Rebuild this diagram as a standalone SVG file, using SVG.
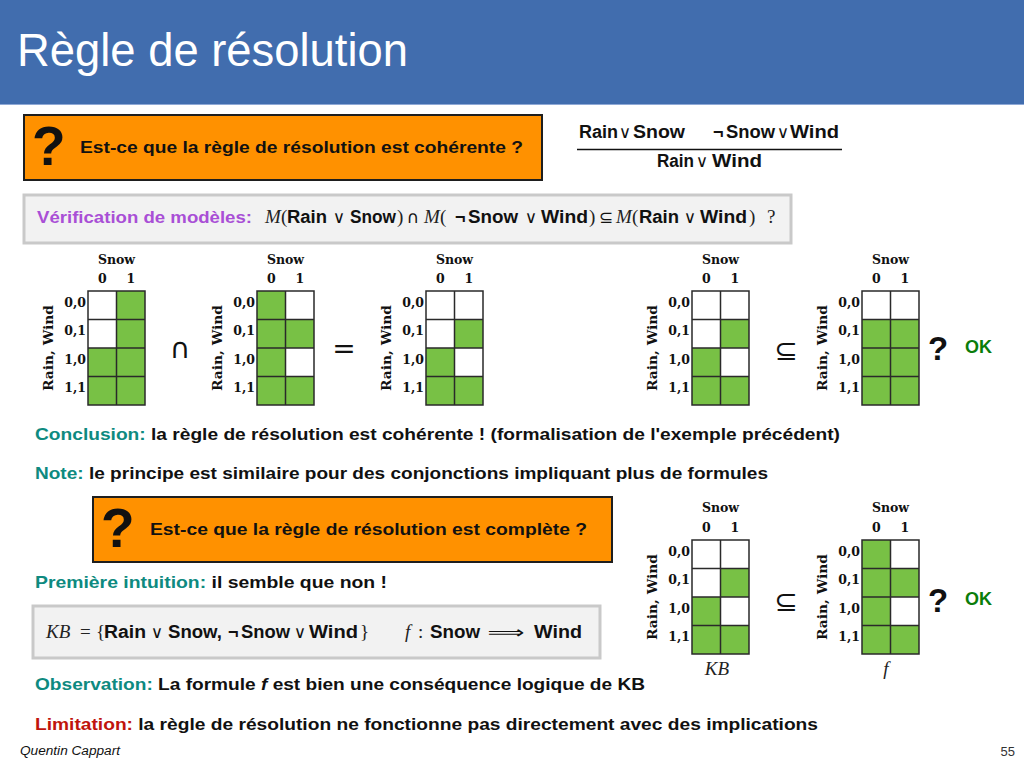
<svg xmlns="http://www.w3.org/2000/svg" width="1024" height="768" viewBox="0 0 1024 768">
<defs>
<style>
.body{font-family:"Liberation Sans",Arial,sans-serif;font-weight:bold;font-size:16.5px;fill:#111}
.teal{fill:#0e8a80}
.red{fill:#c0140c}
.purple{fill:#a94fd6}
.ms{font-family:"Liberation Sans",Arial,sans-serif;font-weight:bold;font-size:18px;fill:#111}
.op{font-family:"DejaVu Sans",sans-serif;font-weight:normal;font-size:17px;fill:#111;text-anchor:middle}
.mi{font-family:"Liberation Serif","Times New Roman",serif;font-style:italic;font-size:19px;fill:#222}
.mr{font-family:"Liberation Serif","Times New Roman",serif;font-size:19px;fill:#222}
.ax{font-family:"DejaVu Serif",serif;font-weight:bold;font-size:12.5px;fill:#111}
.on{fill:#78c145}
.frame{fill:none;stroke:#2a2a2a;stroke-width:1.5}
.bigop{font-family:"DejaVu Sans",sans-serif;font-size:28px;fill:#111;text-anchor:middle}
.qm{font-family:"Liberation Sans",Arial,sans-serif;font-weight:bold;fill:#111}
.ok{font-family:"Liberation Sans",Arial,sans-serif;font-weight:bold;font-size:18px;fill:#0a7d0a}
.obox{fill:#ff9100;stroke:#1e1e1e;stroke-width:2}
.gbox{fill:#f2f2f2;stroke:#c9c9c9;stroke-width:3}
</style>
</defs>

<rect width="1024" height="768" fill="#ffffff"/>

<!-- title bar -->
<g id="title">
  <rect x="0" y="0" width="1024" height="104" fill="#416dae"/>
  <line x1="0" y1="104.5" x2="1024" y2="104.5" stroke="#8fa9d6" stroke-width="1"/>
  <text x="17" y="66" font-family="Liberation Sans, Arial, sans-serif" font-size="46" fill="#ffffff" textLength="391" lengthAdjust="spacingAndGlyphs">Règle de résolution</text>
</g>

<!-- question: soundness -->
<g id="question-sound">
  <rect class="obox" x="24" y="115" width="518" height="65"/>
  <text class="qm" x="32" y="165" font-size="55">?</text>
  <text class="body" x="80" y="153" textLength="443" lengthAdjust="spacingAndGlyphs">Est-ce que la règle de résolution est cohérente ?</text>
</g>

<!-- resolution rule as a fraction -->
<g id="rule">
  <text class="ms" x="579" y="138" textLength="39" lengthAdjust="spacingAndGlyphs">Rain</text>
  <text class="op" x="625" y="138">∨</text>
  <text class="ms" x="633" y="138" textLength="52" lengthAdjust="spacingAndGlyphs">Snow</text>
  <text class="ms" x="713" y="138">¬</text>
  <text class="ms" x="726" y="138" textLength="49" lengthAdjust="spacingAndGlyphs">Snow</text>
  <text class="op" x="783" y="138">∨</text>
  <text class="ms" x="790" y="138" textLength="49" lengthAdjust="spacingAndGlyphs">Wind</text>
  <line x1="577" y1="149.5" x2="842" y2="149.5" stroke="#111" stroke-width="1.5"/>
  <text class="ms" x="657" y="167" textLength="37" lengthAdjust="spacingAndGlyphs">Rain</text>
  <text class="op" x="702" y="167">∨</text>
  <text class="ms" x="712" y="167" textLength="50" lengthAdjust="spacingAndGlyphs">Wind</text>
</g>

<!-- model checking statement -->
<g id="model-check">
  <rect class="gbox" x="24" y="195" width="767" height="48"/>
  <text class="body purple" x="37" y="223" textLength="215" lengthAdjust="spacingAndGlyphs">Vérification de modèles:</text>
  <text class="mi" x="265" y="223">M</text>
  <text class="mr" x="281" y="223">(</text>
  <text class="ms" x="287" y="223" textLength="40" lengthAdjust="spacingAndGlyphs">Rain</text>
  <text class="op" x="339" y="223">∨</text>
  <text class="ms" x="350" y="223" textLength="46" lengthAdjust="spacingAndGlyphs">Snow</text>
  <text class="mr" x="397" y="223">)</text>
  <text class="op" x="413" y="223">∩</text>
  <text class="mi" x="424" y="223">M</text>
  <text class="mr" x="440" y="223">(</text>
  <text class="ms" x="455" y="223">¬</text>
  <text class="ms" x="468" y="223" textLength="50" lengthAdjust="spacingAndGlyphs">Snow</text>
  <text class="op" x="531" y="223">∨</text>
  <text class="ms" x="541" y="223" textLength="47" lengthAdjust="spacingAndGlyphs">Wind</text>
  <text class="mr" x="589" y="223">)</text>
  <text class="op" x="606" y="223">⊆</text>
  <text class="mi" x="616" y="223">M</text>
  <text class="mr" x="632" y="223">(</text>
  <text class="ms" x="639" y="223" textLength="40" lengthAdjust="spacingAndGlyphs">Rain</text>
  <text class="op" x="690" y="223">∨</text>
  <text class="ms" x="700" y="223" textLength="47" lengthAdjust="spacingAndGlyphs">Wind</text>
  <text class="mr" x="749" y="223">)</text>
  <text class="mr" x="767" y="223">?</text>
</g>

<!-- truth tables: rows (Rain,Wind), columns Snow -->
<g id="table-rain-or-snow" transform="translate(88,291)">
  <rect width="57" height="114" fill="#fff"/>
  <rect class="on" x="28.5" y="0" width="28.5" height="57"/>
  <rect class="on" x="0" y="57" width="57" height="57"/>
  <path class="frame" d="M0 0H57V114H0Z M28.5 0V114 M0 28.5H57 M0 57H57 M0 85.5H57"/>
  <text class="ax" x="28.5" y="-27" text-anchor="middle">Snow</text>
  <text class="ax" x="14.25" y="-8" text-anchor="middle">0</text>
  <text class="ax" x="42.75" y="-8" text-anchor="middle">1</text>
  <text class="ax" x="-2" y="15.7" text-anchor="end">0,0</text>
  <text class="ax" x="-2" y="44.2" text-anchor="end">0,1</text>
  <text class="ax" x="-2" y="72.7" text-anchor="end">1,0</text>
  <text class="ax" x="-2" y="101.2" text-anchor="end">1,1</text>
  <text class="ax" transform="translate(-35,57) rotate(-90)" text-anchor="middle" textLength="86" lengthAdjust="spacingAndGlyphs">Rain, Wind</text>
</g>

<g id="table-not-snow-or-wind" transform="translate(257,291)">
  <rect width="57" height="114" fill="#fff"/>
  <rect class="on" x="0" y="0" width="28.5" height="114"/>
  <rect class="on" x="28.5" y="28.5" width="28.5" height="28.5"/>
  <rect class="on" x="28.5" y="85.5" width="28.5" height="28.5"/>
  <path class="frame" d="M0 0H57V114H0Z M28.5 0V114 M0 28.5H57 M0 57H57 M0 85.5H57"/>
  <text class="ax" x="28.5" y="-27" text-anchor="middle">Snow</text>
  <text class="ax" x="14.25" y="-8" text-anchor="middle">0</text>
  <text class="ax" x="42.75" y="-8" text-anchor="middle">1</text>
  <text class="ax" x="-2" y="15.7" text-anchor="end">0,0</text>
  <text class="ax" x="-2" y="44.2" text-anchor="end">0,1</text>
  <text class="ax" x="-2" y="72.7" text-anchor="end">1,0</text>
  <text class="ax" x="-2" y="101.2" text-anchor="end">1,1</text>
  <text class="ax" transform="translate(-35,57) rotate(-90)" text-anchor="middle" textLength="86" lengthAdjust="spacingAndGlyphs">Rain, Wind</text>
</g>

<g id="table-intersection" transform="translate(426,291)">
  <rect width="57" height="114" fill="#fff"/>
  <rect class="on" x="28.5" y="28.5" width="28.5" height="28.5"/>
  <rect class="on" x="0" y="57" width="28.5" height="57"/>
  <rect class="on" x="28.5" y="85.5" width="28.5" height="28.5"/>
  <path class="frame" d="M0 0H57V114H0Z M28.5 0V114 M0 28.5H57 M0 57H57 M0 85.5H57"/>
  <text class="ax" x="28.5" y="-27" text-anchor="middle">Snow</text>
  <text class="ax" x="14.25" y="-8" text-anchor="middle">0</text>
  <text class="ax" x="42.75" y="-8" text-anchor="middle">1</text>
  <text class="ax" x="-2" y="15.7" text-anchor="end">0,0</text>
  <text class="ax" x="-2" y="44.2" text-anchor="end">0,1</text>
  <text class="ax" x="-2" y="72.7" text-anchor="end">1,0</text>
  <text class="ax" x="-2" y="101.2" text-anchor="end">1,1</text>
  <text class="ax" transform="translate(-35,57) rotate(-90)" text-anchor="middle" textLength="86" lengthAdjust="spacingAndGlyphs">Rain, Wind</text>
</g>

<g id="table-intersection-copy" transform="translate(692,291)">
  <rect width="57" height="114" fill="#fff"/>
  <rect class="on" x="28.5" y="28.5" width="28.5" height="28.5"/>
  <rect class="on" x="0" y="57" width="28.5" height="57"/>
  <rect class="on" x="28.5" y="85.5" width="28.5" height="28.5"/>
  <path class="frame" d="M0 0H57V114H0Z M28.5 0V114 M0 28.5H57 M0 57H57 M0 85.5H57"/>
  <text class="ax" x="28.5" y="-27" text-anchor="middle">Snow</text>
  <text class="ax" x="14.25" y="-8" text-anchor="middle">0</text>
  <text class="ax" x="42.75" y="-8" text-anchor="middle">1</text>
  <text class="ax" x="-2" y="15.7" text-anchor="end">0,0</text>
  <text class="ax" x="-2" y="44.2" text-anchor="end">0,1</text>
  <text class="ax" x="-2" y="72.7" text-anchor="end">1,0</text>
  <text class="ax" x="-2" y="101.2" text-anchor="end">1,1</text>
  <text class="ax" transform="translate(-35,57) rotate(-90)" text-anchor="middle" textLength="86" lengthAdjust="spacingAndGlyphs">Rain, Wind</text>
</g>

<g id="table-rain-or-wind" transform="translate(862,291)">
  <rect width="57" height="114" fill="#fff"/>
  <rect class="on" x="0" y="28.5" width="57" height="85.5"/>
  <path class="frame" d="M0 0H57V114H0Z M28.5 0V114 M0 28.5H57 M0 57H57 M0 85.5H57"/>
  <text class="ax" x="28.5" y="-27" text-anchor="middle">Snow</text>
  <text class="ax" x="14.25" y="-8" text-anchor="middle">0</text>
  <text class="ax" x="42.75" y="-8" text-anchor="middle">1</text>
  <text class="ax" x="-2" y="15.7" text-anchor="end">0,0</text>
  <text class="ax" x="-2" y="44.2" text-anchor="end">0,1</text>
  <text class="ax" x="-2" y="72.7" text-anchor="end">1,0</text>
  <text class="ax" x="-2" y="101.2" text-anchor="end">1,1</text>
  <text class="ax" transform="translate(-35,57) rotate(-90)" text-anchor="middle" textLength="86" lengthAdjust="spacingAndGlyphs">Rain, Wind</text>
</g>

<!-- operators between the tables -->
<g id="operators-top">
  <text class="bigop" x="180" y="358" font-size="26">∩</text>
  <text class="bigop" x="344" y="358" font-size="30">=</text>
  <text class="bigop" x="786" y="360">⊆</text>
  <text class="qm" x="938" y="360" font-size="33" text-anchor="middle">?</text>
  <text class="ok" x="965" y="353">OK</text>
</g>

<!-- remarks -->
<text class="body" x="35" y="440" textLength="805" lengthAdjust="spacingAndGlyphs"><tspan class="teal">Conclusion:</tspan> la règle de résolution est cohérente ! (formalisation de l'exemple précédent)</text>
<text class="body" x="35" y="479" textLength="733" lengthAdjust="spacingAndGlyphs"><tspan class="teal">Note:</tspan> le principe est similaire pour des conjonctions impliquant plus de formules</text>

<!-- question: completeness -->
<g id="question-complete">
  <rect class="obox" x="93" y="497" width="519" height="65"/>
  <text class="qm" x="101" y="547" font-size="55">?</text>
  <text class="body" x="150" y="535" textLength="437" lengthAdjust="spacingAndGlyphs">Est-ce que la règle de résolution est complète ?</text>
</g>

<text class="body" x="35" y="588" textLength="352" lengthAdjust="spacingAndGlyphs"><tspan class="teal">Première intuition:</tspan> il semble que non !</text>

<!-- knowledge base and formula -->
<g id="kb-box">
  <rect class="gbox" x="33" y="606" width="567" height="52"/>
  <text class="mi" x="46" y="638">KB</text>
  <text class="mr" x="80" y="638">=</text>
  <text class="mr" x="96" y="638">{</text>
  <text class="ms" x="104" y="638" textLength="42" lengthAdjust="spacingAndGlyphs">Rain</text>
  <text class="op" x="157" y="638">∨</text>
  <text class="ms" x="168" y="638" textLength="54" lengthAdjust="spacingAndGlyphs">Snow,</text>
  <text class="ms" x="228" y="638">¬</text>
  <text class="ms" x="241" y="638" textLength="49" lengthAdjust="spacingAndGlyphs">Snow</text>
  <text class="op" x="300" y="638">∨</text>
  <text class="ms" x="309" y="638" textLength="49" lengthAdjust="spacingAndGlyphs">Wind</text>
  <text class="mr" x="360" y="638">}</text>
  <text class="mi" x="405" y="638">f</text>
  <text class="mr" x="418" y="638">:</text>
  <text class="ms" x="430" y="638" textLength="50" lengthAdjust="spacingAndGlyphs">Snow</text>
  <text class="op" x="506" y="638" font-size="18" textLength="37" lengthAdjust="spacingAndGlyphs">⟹</text>
  <text class="ms" x="534" y="638" textLength="48" lengthAdjust="spacingAndGlyphs">Wind</text>
</g>

<g id="table-kb" transform="translate(692,540)">
  <rect width="57" height="114" fill="#fff"/>
  <rect class="on" x="28.5" y="28.5" width="28.5" height="28.5"/>
  <rect class="on" x="0" y="57" width="28.5" height="57"/>
  <rect class="on" x="28.5" y="85.5" width="28.5" height="28.5"/>
  <path class="frame" d="M0 0H57V114H0Z M28.5 0V114 M0 28.5H57 M0 57H57 M0 85.5H57"/>
  <text class="ax" x="28.5" y="-28" text-anchor="middle">Snow</text>
  <text class="ax" x="14.25" y="-8" text-anchor="middle">0</text>
  <text class="ax" x="42.75" y="-8" text-anchor="middle">1</text>
  <text class="ax" x="-2" y="15.7" text-anchor="end">0,0</text>
  <text class="ax" x="-2" y="44.2" text-anchor="end">0,1</text>
  <text class="ax" x="-2" y="72.7" text-anchor="end">1,0</text>
  <text class="ax" x="-2" y="101.2" text-anchor="end">1,1</text>
  <text class="ax" transform="translate(-35,57) rotate(-90)" text-anchor="middle" textLength="86" lengthAdjust="spacingAndGlyphs">Rain, Wind</text>
  <text class="mi" x="25" y="135" text-anchor="middle">KB</text>
</g>

<g id="table-f" transform="translate(862,540)">
  <rect width="57" height="114" fill="#fff"/>
  <rect class="on" x="0" y="0" width="28.5" height="114"/>
  <rect class="on" x="28.5" y="28.5" width="28.5" height="28.5"/>
  <rect class="on" x="28.5" y="85.5" width="28.5" height="28.5"/>
  <path class="frame" d="M0 0H57V114H0Z M28.5 0V114 M0 28.5H57 M0 57H57 M0 85.5H57"/>
  <text class="ax" x="28.5" y="-28" text-anchor="middle">Snow</text>
  <text class="ax" x="14.25" y="-8" text-anchor="middle">0</text>
  <text class="ax" x="42.75" y="-8" text-anchor="middle">1</text>
  <text class="ax" x="-2" y="15.7" text-anchor="end">0,0</text>
  <text class="ax" x="-2" y="44.2" text-anchor="end">0,1</text>
  <text class="ax" x="-2" y="72.7" text-anchor="end">1,0</text>
  <text class="ax" x="-2" y="101.2" text-anchor="end">1,1</text>
  <text class="ax" transform="translate(-35,57) rotate(-90)" text-anchor="middle" textLength="86" lengthAdjust="spacingAndGlyphs">Rain, Wind</text>
  <text class="mi" x="24" y="135" text-anchor="middle">f</text>
</g>

<g id="operators-bottom">
  <text class="bigop" x="786" y="611">⊆</text>
  <text class="qm" x="938" y="612" font-size="33" text-anchor="middle">?</text>
  <text class="ok" x="965" y="605">OK</text>
</g>

<text class="body" x="35" y="690" textLength="610" lengthAdjust="spacingAndGlyphs"><tspan class="teal">Observation:</tspan> La formule <tspan font-style="italic">f</tspan> est bien une conséquence logique de KB</text>
<text class="body" x="35" y="730" textLength="783" lengthAdjust="spacingAndGlyphs"><tspan class="red">Limitation:</tspan> la règle de résolution ne fonctionne pas directement avec des implications</text>

<!-- footer -->
<text x="20" y="755" font-family="Liberation Sans, Arial, sans-serif" font-style="italic" font-size="12" fill="#111" textLength="100" lengthAdjust="spacingAndGlyphs">Quentin Cappart</text>
<text x="1015" y="756" font-family="Liberation Sans, Arial, sans-serif" font-size="13" fill="#333" text-anchor="end">55</text>
</svg>
